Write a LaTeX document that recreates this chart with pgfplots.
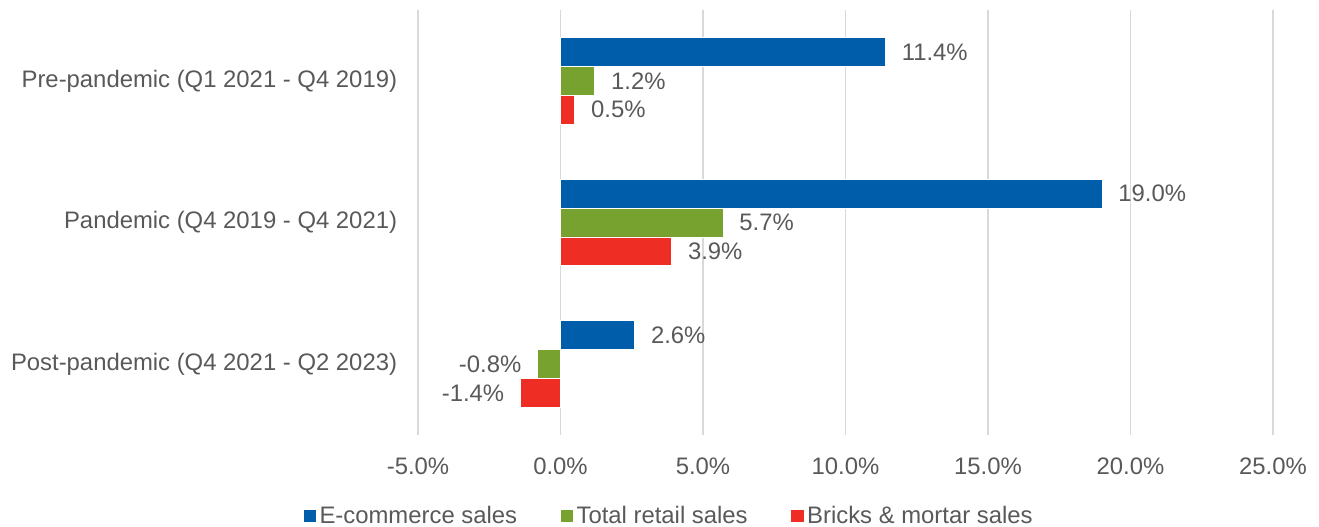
\documentclass[border=0pt]{standalone}
\usepackage{fontspec}
\setmainfont{Liberation Sans}
\usepackage{pgfplots}
\pgfplotsset{compat=1.18}
\definecolor{cblue}{HTML}{005DAA}
\definecolor{cgreen}{HTML}{77A22F}
\definecolor{cred}{HTML}{EE2D24}
\definecolor{ctext}{HTML}{595959}
\definecolor{cgrid}{HTML}{D9D9D9}
\newcommand\cf{\fontsize{17.9pt}{21pt}\selectfont}
\begin{document}
\begin{tikzpicture}
\useasboundingbox (-313.5pt,-69pt) rectangle (675.75pt,326.25pt);
\begin{axis}[
  at={(0pt,0pt)}, anchor=south west,
  scale only axis,
  width=641.25pt, height=318.75pt,
  xbar, bar width=0.204,
  xmin=-5, xmax=25, ymin=-0.5, ymax=2.5,
  y dir=reverse,
  xtick={-5,0,5,10,15,20,25},
  xticklabels={-5.0\%,0.0\%,5.0\%,10.0\%,15.0\%,20.0\%,25.0\%},
  ytick={0,1,2},
  yticklabels={Pre-pandemic (Q1 2021 - Q4 2019),Pandemic (Q4 2019 - Q4 2021),Post-pandemic (Q4 2021 - Q2 2023)},
  axis line style={draw=none},
  major tick length=0pt,
  tick style={draw=none},
  xmajorgrids,
  grid style={draw=cgrid, line width=1pt},
  ticklabel style={font=\cf, text=ctext},
  xticklabel style={anchor=north, inner ysep=0pt, yshift=-17pt},
  yticklabel style={anchor=east, inner xsep=0pt, xshift=-15.5pt},
  nodes near coords={\pgfmathprintnumber[fixed,fixed zerofill,precision=1,assume math mode=true]{\pgfplotspointmeta}\%},
  nodes near coords align=horizontal,
  every node near coord/.append style={font=\cf, text=ctext, inner xsep=12pt},
  legend columns=3,
  legend style={draw=none, fill=none, at={(0.2936,-0.19)}, anchor=center, font=\cf, text=ctext,
    cells={anchor=west}, inner sep=0pt,
    /tikz/every even column/.append style={column sep=30pt},
    nodes={inner xsep=2pt, inner ysep=1pt}},
  legend image code/.code={\fill[#1] (0pt,-5pt) rectangle (10pt,5pt);},
]
\addplot[fill=cblue, draw=white, line width=0.6pt, bar shift=-0.204] coordinates {(11.4,0) (19.0,1) (2.6,2)};
\addplot[fill=cgreen, draw=white, line width=0.6pt, bar shift=0] coordinates {(1.2,0) (5.7,1) (-0.8,2)};
\addplot[fill=cred, draw=white, line width=0.6pt, bar shift=0.204] coordinates {(0.5,0) (3.9,1) (-1.4,2)};
\legend{E-commerce sales, Total retail sales, Bricks \& mortar sales}
\end{axis}
\end{tikzpicture}
\end{document}
